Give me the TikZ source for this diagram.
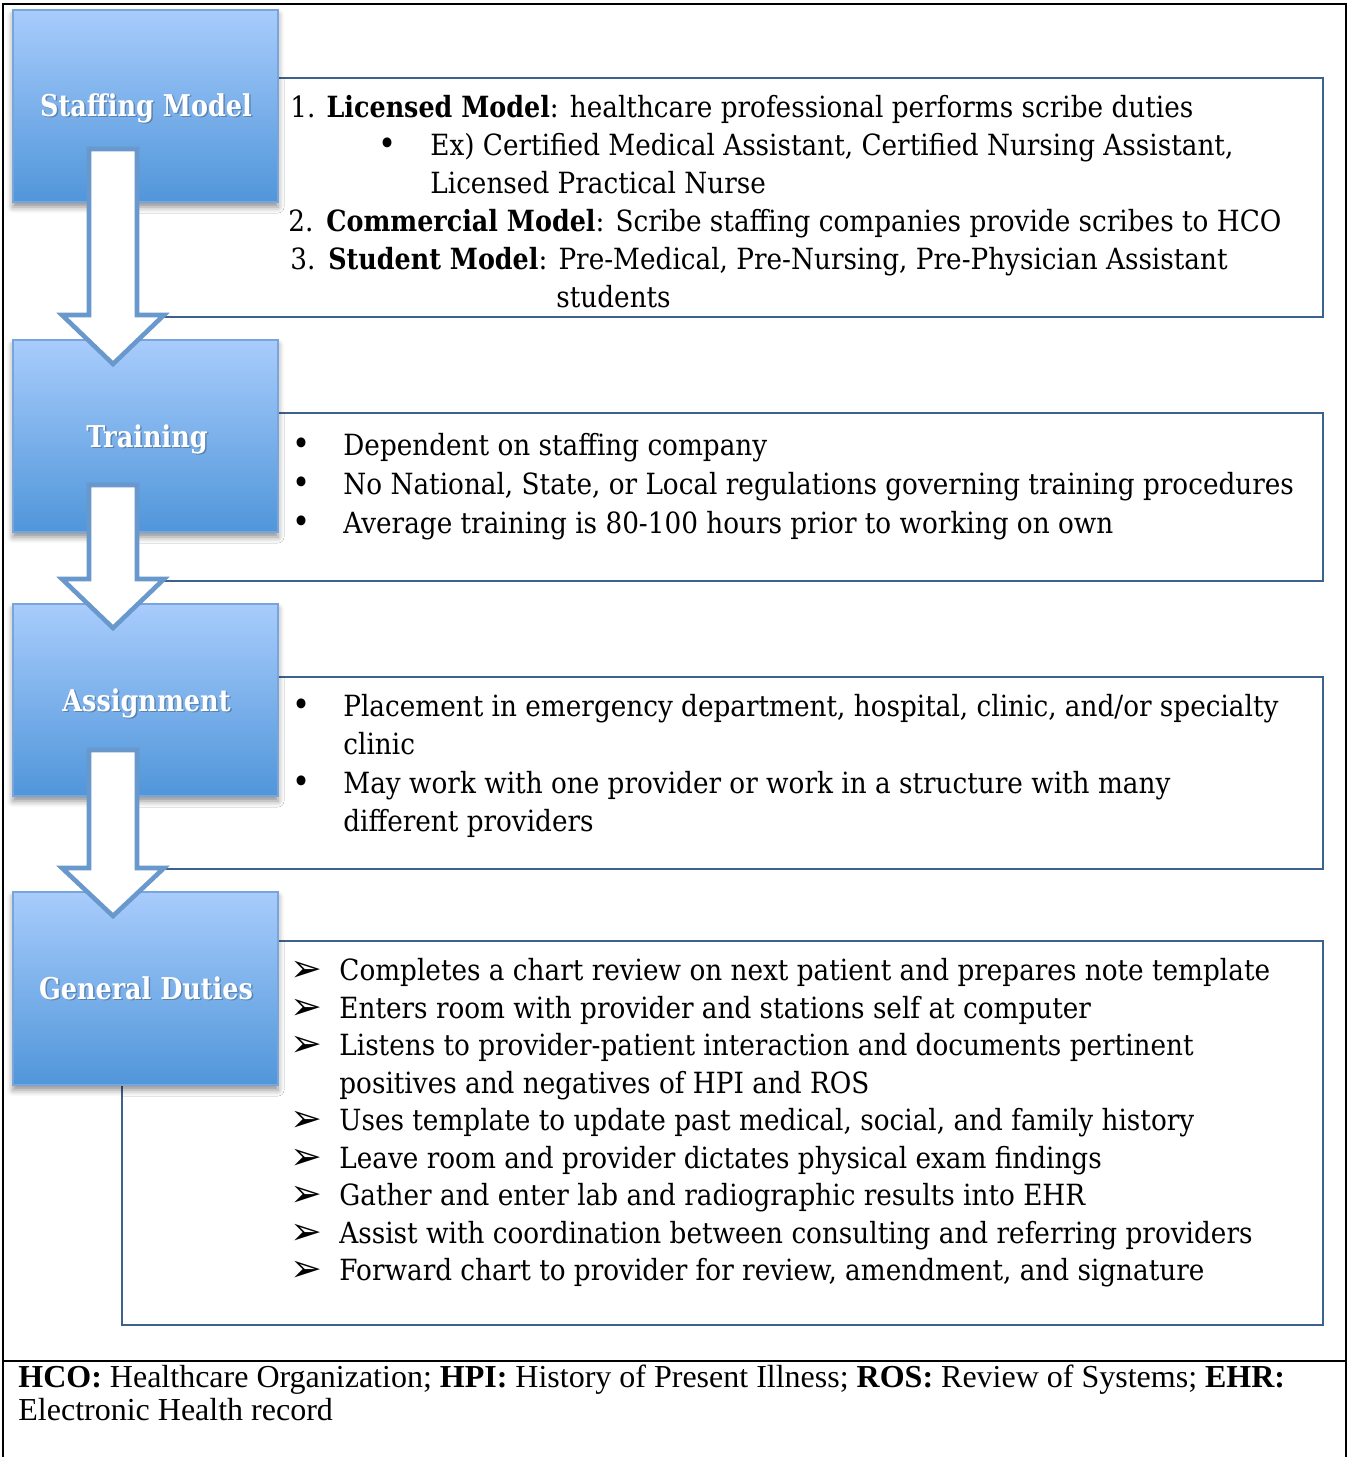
\documentclass[tikz,border=0pt]{standalone}
\usepackage{fontspec}
\setmainfont{DejaVu Serif}[FakeStretch=0.9]
\newfontfamily\boldfont{DejaVu Serif}[FakeStretch=0.87]
\newfontfamily\lblfont{DejaVu Serif}[FakeStretch=0.85]
\newfontfamily\footfont{Liberation Serif}
\newfontfamily\symfont{DejaVu Sans}
\usetikzlibrary{shadows.blur}
\definecolor{boxtop}{RGB}{168,204,252}
\definecolor{boxbot}{RGB}{80,150,218}
\definecolor{boxedge}{RGB}{120,165,218}
\definecolor{arrowedge}{RGB}{104,152,204}
\definecolor{panel}{RGB}{62,98,142}
\newcommand\blockarr[3]{%
  \draw[blockarrow] (89,#1) -- (137,#1) -- (137,#2) -- (164,#2) -- (113,#3) -- (62,#2) -- (89,#2) -- cycle;}
\newcommand\bterm[1]{{\boldfont\bfseries #1}}
\begin{document}
\begin{tikzpicture}[x=0.5pt,y=-0.5pt,
  panelbox/.style={draw=panel, line width=1.1pt, fill=white},
  bluebox/.style={draw=boxedge, line width=0.6pt, top color=boxtop, bottom color=boxbot,
     blur shadow={shadow xshift=0pt, shadow yshift=-2.5pt, shadow blur radius=3pt, shadow opacity=45}},
  blockarrow/.style={draw=arrowedge, line width=2.3pt, fill=white, line join=miter},
  lbl/.style={anchor=base, inner sep=0pt, text=white, font=\lblfont\fontsize{15pt}{18pt}\selectfont\bfseries},
  lblsh/.style={lbl, text=black, opacity=0.25},
  txt/.style={anchor=base west, inner sep=0pt, font=\fontsize{14.6pt}{19pt}\selectfont},
  dot/.style={anchor=base, inner sep=0pt, font=\fontsize{17pt}{19pt}\selectfont},
  arr/.style={anchor=base west, inner sep=0pt, font=\symfont\fontsize{19pt}{19pt}\selectfont},
  foot/.style={anchor=base west, inner sep=0pt, font=\footfont\fontsize{16pt}{18pt}\selectfont},
  frame/.style={draw=black, line width=1pt}
]
\useasboundingbox (0,0) rectangle (1348,1457);
% outer frame
\draw[frame] (3,1457) -- (3,4) -- (1346,4) -- (1346,1457);
\draw[frame] (3,1361) -- (1346,1361);

% text panels
\draw[panelbox] (122,78) rectangle (1323,317);
\draw[panelbox] (122,413) rectangle (1323,581);
\draw[panelbox] (122,677) rectangle (1323,869);
\draw[panelbox] (122,941) rectangle (1323,1325);

% blue boxes
\draw[bluebox] (13,10) rectangle (278,202);
\draw[bluebox] (13,340) rectangle (278,532);
\draw[bluebox] (13,604) rectangle (278,796);
\draw[bluebox] (13,892) rectangle (278,1085);

% labels
\node[lblsh] (lsms) at (147.5,117.5) {Staffing Model};
\node[lbl] (lsm) at (146,116) {Staffing Model};
\node[lblsh] (ltrs) at (148.5,448.5) {Training};
\node[lbl] (ltr) at (147,447) {Training};
\node[lblsh] (lass) at (148,712.5) {Assignment};
\node[lbl] (las) at (146.5,711) {Assignment};
\node[lblsh] (lgds) at (147.5,1000.5) {General Duties};
\node[lbl] (lgd) at (146,999) {General Duties};

% block arrows
\blockarr{149}{315}{364}
\blockarr{485}{579}{628}
\blockarr{750}{868}{916}

% panel 1
\node[txt] (t1a) at (290,117) {1. \bterm{Licensed Model}: healthcare professional performs scribe duties};
\node[dot] (b1) at (388,155) {•};
\node[txt] (t1b) at (430,155) {Ex) Certified Medical Assistant, Certified Nursing Assistant,};
\node[txt] (t1c) at (430,193) {Licensed Practical Nurse};
\node[txt] (n2) at (288,231) {2.};
\node[txt] (t1d) at (326,231) {\bterm{Commercial Model}: Scribe staffing companies provide scribes to HCO};
\node[txt] (n3) at (290,269) {3.};
\node[txt] (t1e) at (328,269) {\bterm{Student Model}: Pre-Medical, Pre-Nursing, Pre-Physician Assistant};
\node[txt] (t1f) at (556,307) {students};

% panel 2
\node[dot] (b21) at (302,455) {•};
\node[txt] (t21) at (343,455) {Dependent on staffing company};
\node[dot] (b22) at (302,494) {•};
\node[txt] (t22) at (343,494) {No National, State, or Local regulations governing training procedures};
\node[dot] (b23) at (302,533) {•};
\node[txt] (t23) at (343,533) {Average training is 80-100 hours prior to working on own};

% panel 3
\node[dot] (b31) at (302,716) {•};
\node[txt] (t31) at (343,716) {Placement in emergency department, hospital, clinic, and/or specialty};
\node[txt] (t31b) at (343,754) {clinic};
\node[dot] (b32) at (302,793) {•};
\node[txt] (t32) at (343,793) {May work with one provider or work in a structure with many};
\node[txt] (t32b) at (343,831) {different providers};

% panel 4
\node[arr] (a41) at (290,981) {➢};
\node[txt] (t41) at (339,980) {Completes a chart review on next patient and prepares note template};
\node[arr] (a42) at (290,1019) {➢};
\node[txt] (t42) at (339,1018) {Enters room with provider and stations self at computer};
\node[arr] (a43) at (290,1056) {➢};
\node[txt] (t43) at (339,1055) {Listens to provider-patient interaction and documents pertinent};
\node[txt] (t43b) at (339,1093) {positives and negatives of HPI and ROS};
\node[arr] (a44) at (290,1131) {➢};
\node[txt] (t44) at (339,1130) {Uses template to update past medical, social, and family history};
\node[arr] (a45) at (290,1169) {➢};
\node[txt] (t45) at (339,1168) {Leave room and provider dictates physical exam findings};
\node[arr] (a46) at (290,1206) {➢};
\node[txt] (t46) at (339,1205) {Gather and enter lab and radiographic results into EHR};
\node[arr] (a47) at (290,1244) {➢};
\node[txt] (t47) at (339,1243) {Assist with coordination between consulting and referring providers};
\node[arr] (a48) at (290,1281) {➢};
\node[txt] (t48) at (339,1280) {Forward chart to provider for review, amendment, and signature};

% footer
\node[foot] (f1) at (18,1387) {\textbf{HCO:} Healthcare Organization; \textbf{HPI:} History of Present Illness; \textbf{ROS:} Review of Systems; \textbf{EHR:}};
\node[foot] (f2) at (18,1420) {Electronic Health record};
\end{tikzpicture}
\end{document}
